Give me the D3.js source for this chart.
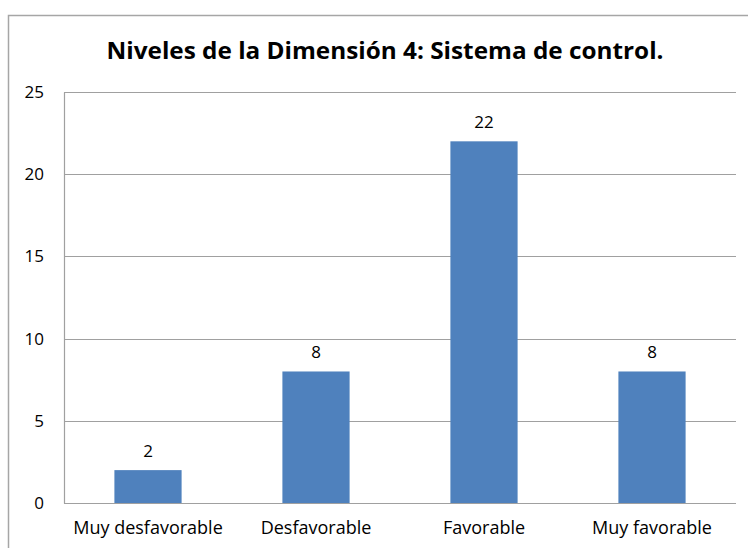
<!DOCTYPE html>
<html>
<head>
<meta charset="utf-8">
<script src="https://cdn.jsdelivr.net/npm/d3@7"></script>
<style>
  body { margin: 0; background: #fff; }
  svg text { font-family: "Open Sans", "Noto Sans", sans-serif; fill: #000; }
</style>
</head>
<body>
<div id="chart"></div>
<script>
// chart data
const categories = ["Muy desfavorable", "Desfavorable", "Favorable", "Muy favorable"];
const values = [2, 8, 22, 8];
const yTicks = [0, 5, 10, 15, 20, 25];
const title = "Niveles de la Dimensión 4: Sistema de control.";

var W = 748, H = 548;
var margin = {top: 92, right: 12, bottom: 45, left: 64},
    width = W - margin.left - margin.right,
    height = H - margin.top - margin.bottom;

const svg = d3.select("#chart")
  .append("svg")
  .attr("width", W)
  .attr("height", H);

// outer chart frame (only top/left visible in the crop)
svg.append("path")
  .attr("d", "M8.5,548 V15.5 H748")
  .attr("fill", "none")
  .attr("stroke", "#a6a6a6")
  .attr("stroke-width", 1.5);

svg.append("text")
  .attr("x", 385)
  .attr("y", 59)
  .attr("text-anchor", "middle")
  .style("font-size", "24px")
  .style("font-weight", "bold")
  .attr("textLength", 557)
  .attr("lengthAdjust", "spacingAndGlyphs")
  .text(title);

const g = svg.append("g")
  .attr("transform", "translate(" + margin.left + "," + margin.top + ")");

var x = d3.scaleBand().domain(categories).range([0, width]).paddingInner(0.6).paddingOuter(0.3);
var y = d3.scaleLinear().domain([0, 25]).range([height, 0]);

// gridlines
g.append("g")
  .selectAll("line")
  .data(yTicks)
  .join("line")
  .attr("x1", 0)
  .attr("x2", width)
  .attr("y1", d => Math.round(y(d)) + 0.5)
  .attr("y2", d => Math.round(y(d)) + 0.5)
  .attr("stroke", "#a0a0a0")
  .attr("stroke-width", 1.2);

// y axis
const yAxis = g.append("g")
  .call(d3.axisLeft(y).tickValues(yTicks).tickSize(0).tickPadding(20));
yAxis.select(".domain").attr("stroke", "#a0a0a0").attr("stroke-width", 1.2);
yAxis.selectAll("text").style("font-size", "17px").attr("fill", "#000");

// x axis
const xAxis = g.append("g")
  .attr("transform", "translate(0," + height + ")")
  .call(d3.axisBottom(x).tickSize(0).tickPadding(18));
xAxis.select(".domain").remove();
xAxis.selectAll("text").style("font-size", "18px").attr("fill", "#000");

// bars
g.selectAll(".bar")
  .data(values)
  .join("rect")
  .attr("class", "bar")
  .attr("x", (d, i) => x(categories[i]))
  .attr("width", x.bandwidth())
  .attr("y", d => y(d))
  .attr("height", d => height - y(d))
  .attr("fill", "#4f81bd");

// value labels
g.selectAll(".val")
  .data(values)
  .join("text")
  .attr("class", "val")
  .attr("x", (d, i) => x(categories[i]) + x.bandwidth() / 2)
  .attr("y", d => y(d) - 13)
  .attr("text-anchor", "middle")
  .style("font-size", "17px")
  .text(d => d);
</script>
</body>
</html>
